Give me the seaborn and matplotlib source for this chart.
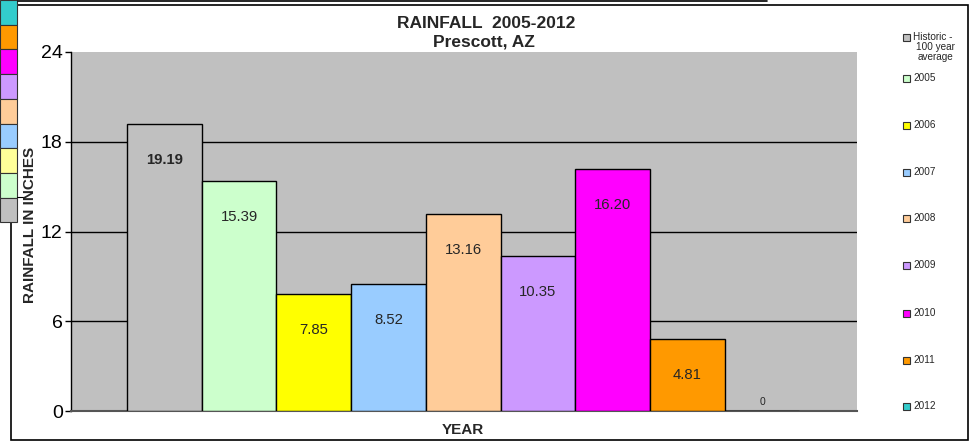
import matplotlib
matplotlib.use("Agg")
import matplotlib.pyplot as plt
from matplotlib.patches import Rectangle
from matplotlib.lines import Line2D
import seaborn as sns

# ---- data ----
series = ["Historic -\n100 year\naverage", "2005", "2006", "2007", "2008",
          "2009", "2010", "2011", "2012"]
rainfall = [19.19, 15.39, 7.85, 8.52, 13.16, 10.35, 16.20, 4.81, 0]
value_labels = ["19.19", "15.39", "7.85", "8.52", "13.16", "10.35", "16.20", "4.81", "0"]
colors = ["#C0C0C0", "#CCFFCC", "#FFFF00", "#99CCFF", "#FFCC99",
          "#CC99FF", "#FF00FF", "#FF9900", "#33CCCC"]
yticks = [0, 6, 12, 18, 24]
strip_colors = ["#33CCCC", "#FF9900", "#FF00FF", "#CC99FF", "#FFCC99",
                "#99CCFF", "#FFFF99", "#CCFFCC", "#C0C0C0"]

sns.set_style("white")
plt.rcParams["font.family"] = ["Liberation Sans", "DejaVu Sans"]

W, H = 980, 445
fig = plt.figure(figsize=(W / 100, H / 100), dpi=100)

def fx(px):
    return px / W

def fy(py):
    return 1 - py / H

ax = fig.add_axes([fx(71), fy(411), (857 - 71) / W, (411 - 52) / H])
ax.set_facecolor("#C0C0C0")

keys = [s.replace("\n", " ") for s in series]
sns.barplot(x=keys, y=rainfall, hue=keys, palette=colors, width=1.0,
            edgecolor="black", linewidth=1.0, legend=False, ax=ax,
            saturation=1, zorder=3)

ax.set_xlim(-1.25, 9.27)
ax.set_ylim(0, 24)
ax.set_yticks(yticks)
ax.set_yticklabels([str(t) for t in yticks], fontsize=14)
ax.set_xticks([])
for t in yticks[1:-1]:
    ax.axhline(t, color="black", lw=1.0, zorder=1)
for side in ["top", "right"]:
    ax.spines[side].set_visible(False)
ax.spines["left"].set_color("black")
ax.spines["bottom"].set_color("#555555")
ax.spines["left"].set_linewidth(1.0)
ax.spines["bottom"].set_linewidth(1.5)
ax.tick_params(axis="y", direction="out", length=4, width=1, pad=2,
               colors="black", left=True)
ax.set_xlabel("")
ax.set_ylabel("")

# value labels
for i, (v, lab) in enumerate(zip(rainfall, value_labels)):
    if v > 0:
        ax.annotate(lab, (i, v), xytext=(0, -26), textcoords="offset points",
                    ha="center", va="center", fontsize=10.7,
                    fontweight="bold" if i == 0 else "normal", zorder=5)
    else:
        ax.annotate(lab, (i, v), xytext=(0, 6.5), textcoords="offset points",
                    ha="center", va="center", fontsize=7.5, zorder=5)

# titles
fig.text(fx(486), fy(23), "RAINFALL  2005-2012", ha="center", va="center",
         fontsize=12.5, fontweight="bold")
fig.text(fx(484), fy(42), "Prescott, AZ", ha="center", va="center",
         fontsize=12.5, fontweight="bold")
fig.text(fx(30), fy(225), "RAINFALL IN INCHES", rotation=90, ha="center",
         va="center", fontsize=11, fontweight="bold")
fig.text(fx(463), fy(430), "YEAR", ha="center", va="center",
         fontsize=11, fontweight="bold")

# legend (drawn manually, Excel style)
ys = [37, 78, 125, 172, 218, 265, 313, 360, 406]
for lab, c, y in zip(series, colors, ys):
    fig.patches.append(Rectangle((fx(903), fy(y + 3.5)), 7 / W, 7 / H,
                                 transform=fig.transFigure, facecolor=c,
                                 edgecolor="#333333", lw=0.8))
    lines = lab.split("\n")
    fig.text(fx(913), fy(y), lines[0], ha="left", va="center", fontsize=7.2)
    for k, extra in enumerate(lines[1:]):
        fig.text(fx(935), fy(y + 10 * (k + 1)), extra, ha="center",
                 va="center", fontsize=7.2)

# outer frame
fig.patches.append(Rectangle((fx(11), fy(440)), (968 - 11) / W, (440 - 5) / H,
                             transform=fig.transFigure, fill=False,
                             edgecolor="black", lw=1.2))
fig.lines.append(Line2D([fx(18), fx(767)], [fy(1), fy(1)],
                        transform=fig.transFigure, color="black", lw=1.2))

# spreadsheet cell strip on the left
for k, c in enumerate(strip_colors):
    top = k * 24.7
    fig.patches.append(Rectangle((fx(0), fy(top + 24.7)), 17 / W, 24.7 / H,
                                 transform=fig.transFigure, facecolor=c,
                                 edgecolor="#333333", lw=0.8))
fig.lines.append(Line2D([fx(17), fx(25)], [fy(197), fy(197)],
                        transform=fig.transFigure, color="black", lw=0.8))

fig.savefig("out.png", dpi=100)
